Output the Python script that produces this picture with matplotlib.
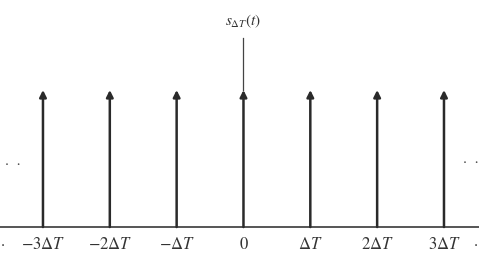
import matplotlib.pyplot as plt

plt.rcParams['mathtext.fontset'] = 'stix'
plt.rcParams['font.family'] = 'STIXGeneral'

# impulse train positions (multiples of delta T) and their labels
k = [-3, -2, -1, 0, 1, 2, 3]
heights = [1, 1, 1, 1, 1, 1, 1]
labels = [r'$-3\Delta T$', r'$-2\Delta T$', r'$-\Delta T$', r'$0$',
          r'$\Delta T$', r'$2\Delta T$', r'$3\Delta T$']

fig = plt.figure(figsize=(4.79, 2.58), dpi=100)
ax = fig.add_axes([0, 0, 1, 1])
ax.set_xlim(-3.643, 3.524)
ax.set_ylim(-0.226, 1.657)
ax.axis('off')

col = '#2a2a2a'
# horizontal axis
ax.axhline(0, color='#555555', lw=1.4)
# vertical axis above the center impulse
ax.plot([0, 0], [1, 1.38], color='#444444', lw=0.9)
ax.text(0, 1.5, r'$s_{\Delta T}(t)$', ha='center', va='center', fontsize=11, color='#333333')

for x, h, lab in zip(k, heights, labels):
    ax.annotate('', xy=(x, h), xytext=(x, 0),
                arrowprops=dict(arrowstyle='-|>', lw=1.8, color=col,
                                mutation_scale=10, shrinkA=0, shrinkB=0))
    ax.text(x, -0.13, lab, ha='center', va='center', fontsize=12, color='#333333')

# ellipsis dots
ax.text(-3.45, 0.46, '·  ·', ha='center', va='center', fontsize=11, color='#444444')
ax.text(3.40, 0.47, '·  ·', ha='center', va='center', fontsize=11, color='#444444')
ax.text(-3.6, -0.13, '·', ha='center', va='center', fontsize=12, color='#444444')
ax.text(3.48, -0.13, '·', ha='center', va='center', fontsize=12, color='#444444')

fig.savefig('out.png', dpi=100)
